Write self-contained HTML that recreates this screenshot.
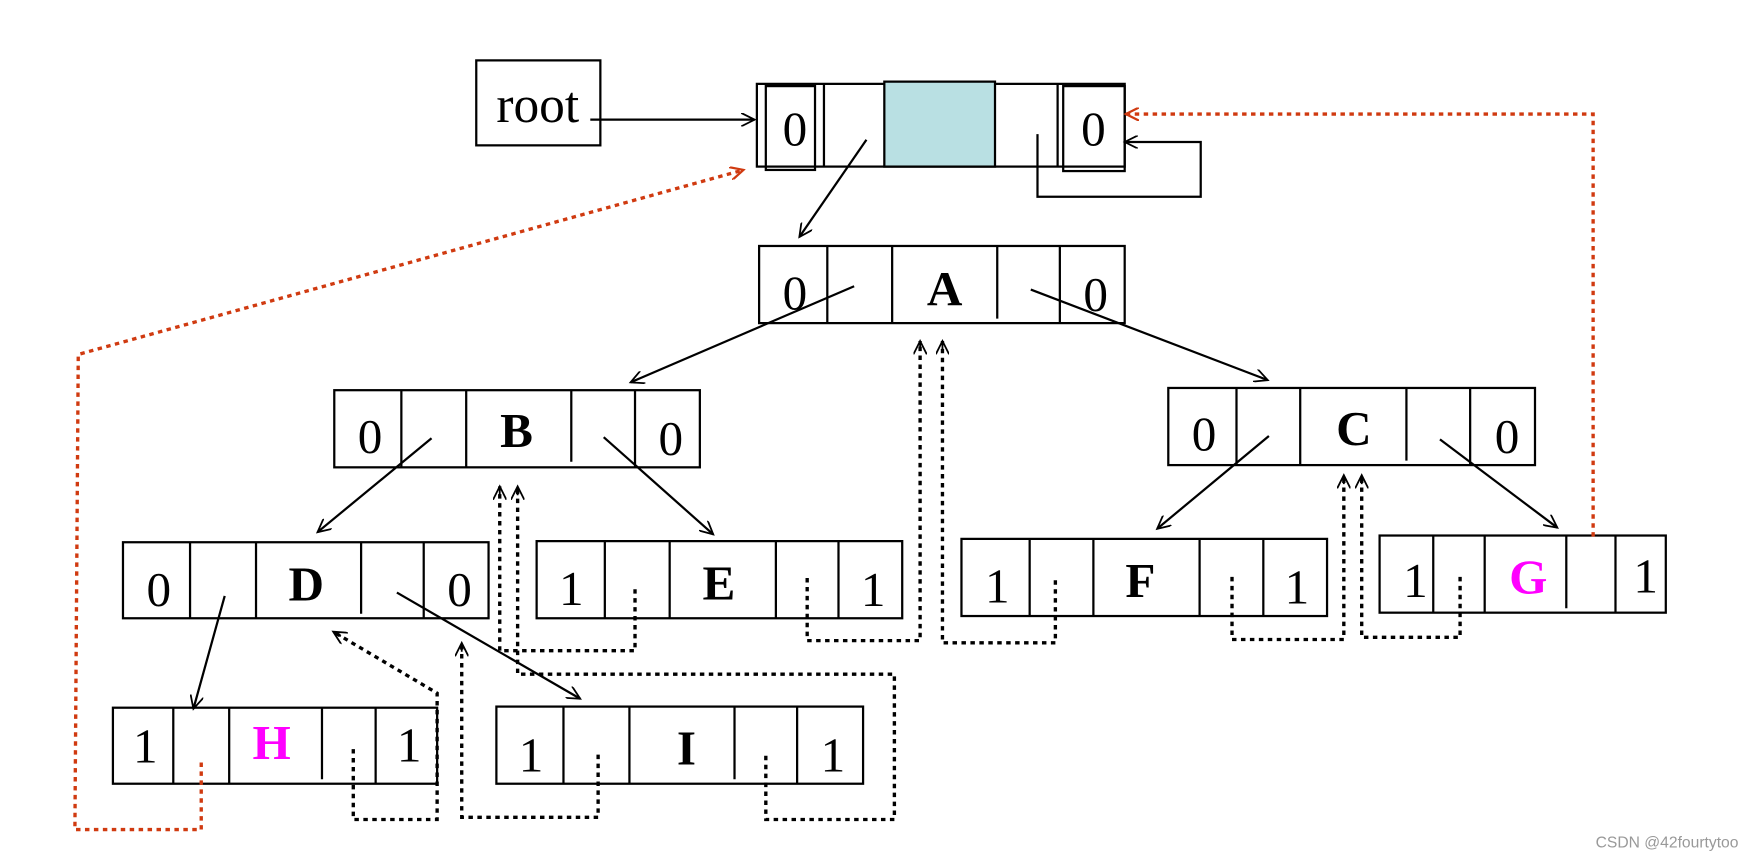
<!DOCTYPE html>
<html><head><meta charset="utf-8"><style>
html,body{margin:0;padding:0;background:#fff;width:1753px;height:862px;overflow:hidden}
svg{display:block}
text{font-family:"Liberation Serif",serif;fill:#000}
</style></head><body>
<svg width="1753" height="862" viewBox="0 0 1568 771" xmlns="http://www.w3.org/2000/svg">
<defs>
<marker id="a" markerWidth="14" markerHeight="12" refX="12" refY="6" orient="auto" markerUnits="userSpaceOnUse"><path d="M0,0 L12,6 L0,12 M12,6 L4,6" fill="none" stroke="#000" stroke-width="1.6"/></marker>
<marker id="r" markerWidth="14" markerHeight="12" refX="12" refY="6" orient="auto" markerUnits="userSpaceOnUse"><path d="M0,0 L12,6 L0,12" fill="none" stroke="#d03a10" stroke-width="2"/></marker>
</defs>
<g fill="none" stroke="#000" stroke-width="2">
<rect x="426" y="54" width="111" height="76"/>
<line x1="528" y1="107" x2="675" y2="107" marker-end="url(#a)"/>
<rect x="677" y="75" width="329" height="74"/>
<rect x="685" y="77" width="44" height="75"/>
<line x1="737" y1="75" x2="737" y2="149"/>
<rect x="791" y="73" width="99" height="76" fill="#b9e0e3"/>
<line x1="946" y1="75" x2="946" y2="149"/>
<rect x="951" y="77" width="55" height="76"/>
<polyline points="928,120 928,176 1074,176 1074,127 1006,127" marker-end="url(#a)"/>
<line x1="775" y1="125" x2="715" y2="212" marker-end="url(#a)"/>
<rect x="679" y="220" width="327" height="69"/>
<path d="M740,220V289M798,220V289M892,220V285M948,220V289"/>
<line x1="764" y1="256" x2="564" y2="342" marker-end="url(#a)"/>
<line x1="922" y1="259" x2="1134" y2="340" marker-end="url(#a)"/>
<rect x="299" y="349" width="327" height="69"/>
<path d="M359,349V418M417,349V418M511,349V413M568,349V418"/>
<line x1="386" y1="392" x2="284" y2="476" marker-end="url(#a)"/>
<line x1="540" y1="391" x2="638" y2="478" marker-end="url(#a)"/>
<rect x="1045" y="347" width="328" height="69"/>
<path d="M1106,347V416M1163,347V416M1258,347V412M1315,347V416"/>
<line x1="1135" y1="390" x2="1035" y2="473" marker-end="url(#a)"/>
<line x1="1288" y1="393" x2="1393" y2="472" marker-end="url(#a)"/>
<rect x="110" y="485" width="327" height="68"/>
<path d="M170,485V553M229,485V553M323,485V549M379,485V553"/>
<line x1="201" y1="533" x2="173" y2="634" marker-end="url(#a)"/>
<line x1="355" y1="530" x2="519" y2="625" marker-end="url(#a)"/>
<rect x="480" y="484" width="327" height="69"/>
<path d="M541,484V553M599,484V553M694,484V553M750,484V553"/>
<rect x="860" y="482" width="327" height="69"/>
<path d="M921,482V551M978,482V551M1073,482V551M1130,482V551"/>
<rect x="1234" y="479" width="256" height="69"/>
<path d="M1282,479V548M1328,479V548M1401,479V544M1445,479V548"/>
<rect x="101" y="633" width="290" height="68"/>
<path d="M155,633V701M205,633V701M288,633V697M336,633V701"/>
<rect x="444" y="632" width="328" height="69"/>
<path d="M504,632V701M563,632V701M657,632V697M713,632V701"/>
</g>
<g fill="none" stroke="#000" stroke-width="3" stroke-dasharray="4,4">
<polyline points="316,670 316,733 391,733 391,620 298,565" marker-end="url(#a)"/>
<polyline points="535,675 535,731 413,731 413,575" marker-end="url(#a)"/>
<polyline points="685,676 685,733 800,733 800,603 463,603 463,435" marker-end="url(#a)"/>
<polyline points="568,527 568,582 447,582 447,435" marker-end="url(#a)"/>
<polyline points="722,517 722,573 823,573 823,305" marker-end="url(#a)"/>
<polyline points="944,519 944,575 843,575 843,305" marker-end="url(#a)"/>
<polyline points="1102,516 1102,572 1202,572 1202,425" marker-end="url(#a)"/>
<polyline points="1306,516 1306,570 1218,570 1218,425" marker-end="url(#a)"/>
</g>
<g fill="none" stroke="#d03a10" stroke-width="3" stroke-dasharray="4,4">
<polyline points="1425,480 1425,102 1007,102" marker-end="url(#r)"/>
<polyline points="180,682 180,742 67,742 70,317 665,152" marker-end="url(#r)"/>
</g>
<g font-size="44" text-anchor="middle">
<text x="481" y="109" font-size="46">root</text>
<text x="711" y="130">0</text><text x="978" y="130">0</text>
<text x="711" y="277">0</text><text x="980" y="278">0</text>
<text x="331" y="405">0</text><text x="600" y="407">0</text>
<text x="1077" y="403">0</text><text x="1348" y="405">0</text>
<text x="142" y="542">0</text><text x="411" y="542">0</text>
<text x="511" y="541">1</text><text x="781" y="542">1</text>
<text x="892" y="539">1</text><text x="1160" y="540">1</text>
<text x="1266" y="534">1</text><text x="1472" y="530">1</text>
<text x="130" y="682">1</text><text x="366" y="681">1</text>
<text x="475" y="690">1</text><text x="745" y="690">1</text>
</g>
<g font-size="44" font-weight="bold" text-anchor="middle">
<text x="845" y="273">A</text>
<text x="462" y="400">B</text>
<text x="1211" y="398">C</text>
<text x="274" y="537">D</text>
<text x="643" y="536">E</text>
<text x="1020" y="534">F</text>
<text x="1367" y="531" style="fill:#ff00ff">G</text>
<text x="243" y="679" style="fill:#ff00ff">H</text>
<text x="614" y="684">I</text>
</g>
<text x="1555" y="758" font-size="14" text-anchor="end" style="font-family:'Liberation Sans',sans-serif;fill:#999">CSDN @42fourtytoo</text>
</svg>
</body></html>
